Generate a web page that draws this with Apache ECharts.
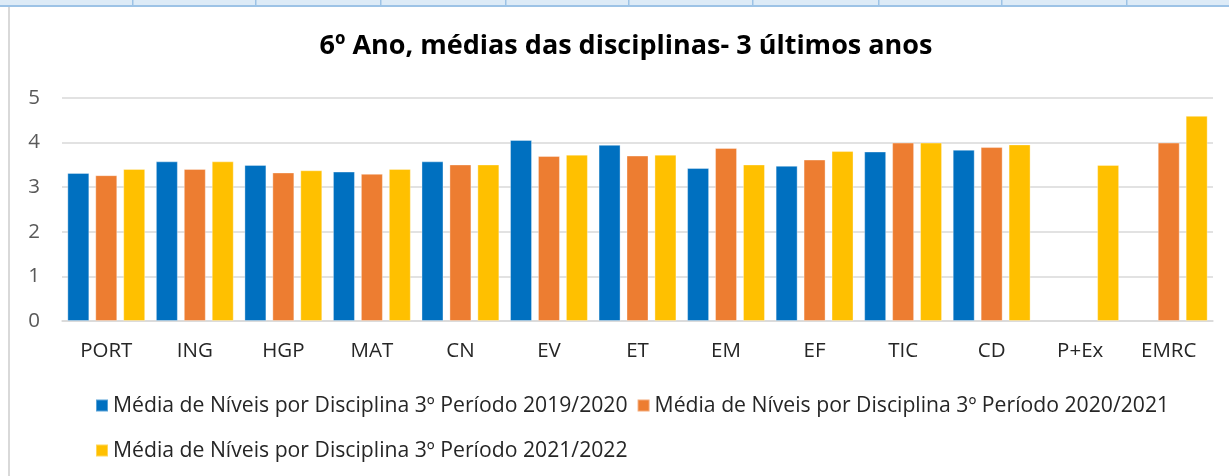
<!DOCTYPE html>
<html>
<head>
<meta charset="utf-8">
<script src="https://cdn.jsdelivr.net/npm/echarts@6/dist/echarts.min.js"></script>
<style>
html,body{margin:0;padding:0;background:#fff;}
#c{width:1229px;height:476px;}
</style>
</head>
<body>
<div id="c"></div>
<script>
const categories = ['PORT','ING','HGP','MAT','CN','EV','ET','EM','EF','TIC','CD','P+Ex','EMRC'];
const s2019 = [3.32,3.58,3.50,3.35,3.58,4.06,3.95,3.43,3.48,3.80,3.84,null,null];
const s2020 = [3.27,3.41,3.33,3.30,3.51,3.70,3.71,3.88,3.62,4.00,3.90,null,4.00];
const s2021 = [3.41,3.58,3.38,3.41,3.51,3.73,3.73,3.51,3.81,4.00,3.96,3.50,4.60];
const seriesNames = [
  'Média de Níveis por Disciplina 3º Período 2019/2020',
  'Média de Níveis por Disciplina 3º Período 2020/2021',
  'Média de Níveis por Disciplina 3º Período 2021/2022'
];
const colors = ['#0070C0','#ED7D31','#FFC000'];
const yTicks = [0,1,2,3,4,5];
const FONT = '"Open Sans"';

const chart = echarts.init(document.getElementById('c'), null, {renderer:'canvas'});
const sep = [132,255,380,505,628,752,878,1001,1126];
const graphics = [
  {type:'rect', shape:{x:0,y:0,width:1229,height:5}, style:{fill:'#DDEBF7'}, silent:true},
  {type:'rect', shape:{x:0,y:5,width:1229,height:2}, style:{fill:'#9DC3E6'}, silent:true},
  {type:'rect', shape:{x:8,y:7,width:2,height:469}, style:{fill:'#D9D9D9'}, silent:true}
];
sep.forEach(x => graphics.push({type:'rect', shape:{x:x,y:0,width:1.5,height:5}, style:{fill:'#9DC3E6'}, silent:true}));

const legendText = {fontFamily:FONT, fontSize:21.2, color:'#262626'};
chart.setOption({
  backgroundColor:'#fff',
  animation:false,
  graphic: graphics,
  title:{
    text:'6º Ano, médias das disciplinas- 3 últimos anos',
    left:621, top:28, textAlign:'center',
    textStyle:{fontFamily:FONT, fontSize:27, fontWeight:'bold', color:'#000'}
  },
  legend:[
    {left:90, top:390, itemWidth:12, itemHeight:12, itemGap:9, icon:'rect',
     data:[seriesNames[0], seriesNames[1]], textStyle:legendText},
    {left:90, top:435, itemWidth:12, itemHeight:12, itemGap:9, icon:'rect',
     data:[seriesNames[2]], textStyle:legendText}
  ],
  grid:{left:62, right:16, top:98, bottom:155, containLabel:false},
  xAxis:{
    type:'category', data:categories,
    axisLine:{show:true, lineStyle:{color:'#D9D9D9', width:1.5}},
    axisTick:{show:false},
    axisLabel:{fontFamily:FONT, fontSize:20.5, color:'#262626', margin:20}
  },
  yAxis:{
    type:'value', min:0, max:5, interval:1,
    axisLine:{show:false}, axisTick:{show:false},
    splitLine:{lineStyle:{color:'#D9D9D9', width:1.5}},
    axisLabel:{fontFamily:FONT, fontSize:20.5, color:'#595959', margin:22,
      formatter: v => yTicks.includes(v) ? String(v) : ''}
  },
  series:[s2019,s2020,s2021].map((d,i)=>({
    type:'bar', name:seriesNames[i], data:d,
    barWidth:22, barGap:'27%',
    itemStyle:{color:colors[i], borderColor:'rgba(255,255,255,0.35)', borderWidth:1}
  }))
});
</script>
</body>
</html>
